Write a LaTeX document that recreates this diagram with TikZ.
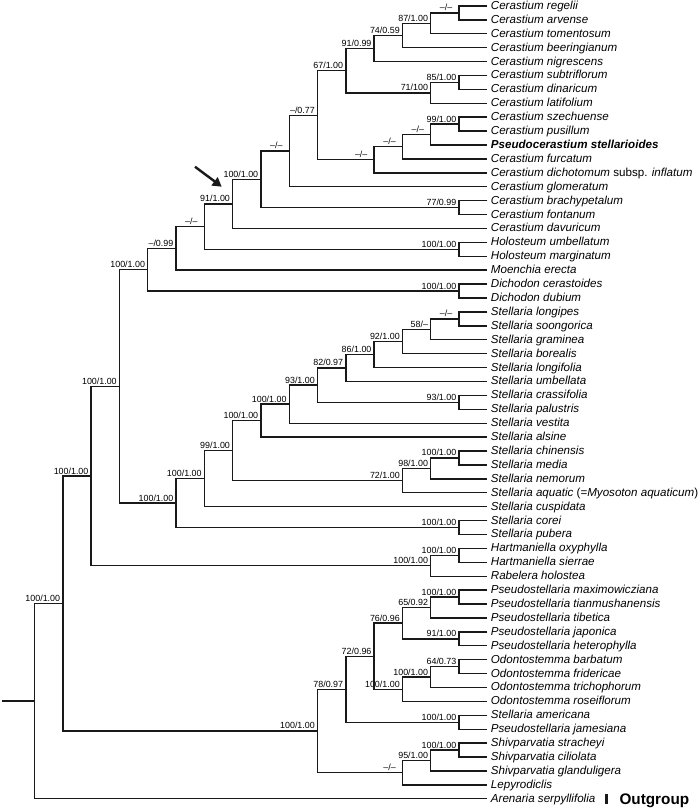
\documentclass[tikz,border=0pt]{standalone}
\usepackage{fontspec}
\setmainfont{Liberation Sans}
\usetikzlibrary{calc, arrows.meta, positioning}
\definecolor{mainBlack}{gray}{0.1}

\tikzset{
  branch/.style={line width=1.4pt, mainBlack},
  taxon/.style={anchor=west, inner xsep=3.4pt, inner ysep=0pt, text height=9pt, text depth=2pt,
    font=\fontsize{11.6}{13}\selectfont\itshape},
  support/.style={anchor=south east, inner xsep=2.5pt, inner ysep=1.8pt, text depth=0pt,
    font=\fontsize{8.9}{10}\selectfont}
}
% clade: name, level, child a, child b, support
\newcommand{\clade}[5]{%
  \coordinate (#1) at ($(#3)!0.5!(#4)$);
  \coordinate (#1) at (L#2 |- #1);
  \draw[branch] (#3) -| (#1) |- (#4);
  \node[support] (#1lab) at (#1) {#5};}
\newcommand{\nosup}{--/--\kern4pt}

\begin{document}
\begin{tikzpicture}[x=1pt, y=-1pt, >=Stealth]
    \useasboundingbox (0,0) rectangle (700,808);

    % levels, counted from the tips
    \foreach \h in {0,...,16}
        \coordinate (L\h) at ({487.3-28.3*\h}, 0);

    \foreach \tx [count=\i from 0] in {
        Cerastium regelii, Cerastium arvense, Cerastium tomentosum, Cerastium beeringianum,
        Cerastium nigrescens, Cerastium subtriflorum, Cerastium dinaricum, Cerastium latifolium,
        Cerastium szechuense, Cerastium pusillum, \textbf{Pseudocerastium stellarioides},
        Cerastium furcatum, Cerastium dichotomum {\upshape subsp.} inflatum,
        Cerastium glomeratum, Cerastium brachypetalum, Cerastium fontanum, Cerastium davuricum,
        Holosteum umbellatum, Holosteum marginatum, Moenchia erecta,
        Dichodon cerastoides, Dichodon dubium,
        Stellaria longipes, Stellaria soongorica, Stellaria graminea, Stellaria borealis,
        Stellaria longifolia, Stellaria umbellata, Stellaria crassifolia, Stellaria palustris,
        Stellaria vestita, Stellaria alsine, Stellaria chinensis, Stellaria media,
        Stellaria nemorum, Stellaria aquatic {\upshape(=}Myosoton aquaticum{\upshape)},
        Stellaria cuspidata, Stellaria corei, Stellaria pubera,
        Hartmaniella oxyphylla, Hartmaniella sierrae, Rabelera holostea,
        Pseudostellaria maximowicziana, Pseudostellaria tianmushanensis, Pseudostellaria tibetica,
        Pseudostellaria japonica, Pseudostellaria heterophylla,
        Odontostemma barbatum, Odontostemma fridericae, Odontostemma trichophorum,
        Odontostemma roseiflorum, Stellaria americana, Pseudostellaria jamesiana,
        Shivparvatia stracheyi, Shivparvatia ciliolata, Shivparvatia glanduligera,
        Lepyrodiclis, Arenaria serpyllifolia}
        \node[taxon] (t\i) at (487.3, {5.9+13.91*\i}) {\tx};

    % Cerastium
    \clade{c1}{1}{t0.west}{t1.west}{\nosup}
    \clade{c2}{2}{c1}{t2.west}{87/1.00}
    \clade{c3}{3}{c2}{t3.west}{74/0.59}
    \clade{c4}{4}{c3}{t4.west}{91/0.99}
    \clade{c5}{1}{t5.west}{t6.west}{85/1.00}
    \clade{c6}{2}{c5}{t7.west}{71/100}
    \clade{c7}{5}{c4}{c6}{67/1.00}
    \clade{c8}{1}{t8.west}{t9.west}{99/1.00}
    \clade{c9}{2}{c8}{t10.west}{\nosup}
    \clade{c10}{3}{c9}{t11.west}{\nosup}
    \clade{c11}{4}{c10}{t12.west}{\nosup}
    \clade{c12}{6}{c7}{c11}{--/0.77}
    \clade{c13}{7}{c12}{t13.west}{\nosup}
    \clade{c14}{1}{t14.west}{t15.west}{77/0.99}
    \clade{c15}{8}{c13}{c14}{100/1.00}
    \clade{c16}{9}{c15}{t16.west}{91/1.00}
    \clade{c17}{1}{t17.west}{t18.west}{100/1.00}
    \clade{c18}{10}{c16}{c17}{\nosup}
    \clade{c19}{11}{c18}{t19.west}{--/0.99}
    \clade{c20}{1}{t20.west}{t21.west}{100/1.00}
    \clade{c21}{12}{c19}{c20}{100/1.00}

    % Stellaria
    \clade{s1}{1}{t22.west}{t23.west}{\nosup}
    \clade{s2}{2}{s1}{t24.west}{58/--}
    \clade{s3}{3}{s2}{t25.west}{92/1.00}
    \clade{s4}{4}{s3}{t26.west}{86/1.00}
    \clade{s5}{5}{s4}{t27.west}{82/0.97}
    \clade{s6}{1}{t28.west}{t29.west}{93/1.00}
    \clade{s7}{6}{s5}{s6}{93/1.00}
    \clade{s8}{7}{s7}{t30.west}{100/1.00}
    \clade{s9}{8}{s8}{t31.west}{100/1.00}
    \clade{s10}{1}{t32.west}{t33.west}{100/1.00}
    \clade{s11}{2}{s10}{t34.west}{98/1.00}
    \clade{s12}{3}{s11}{t35.west}{72/1.00}
    \clade{s13}{9}{s9}{s12}{99/1.00}
    \clade{s14}{10}{s13}{t36.west}{100/1.00}
    \clade{s15}{1}{t37.west}{t38.west}{100/1.00}
    \clade{s16}{11}{s14}{s15}{100/1.00}
    \clade{n1}{13}{c21}{s16}{100/1.00}

    % Hartmaniella, Rabelera
    \clade{h1}{1}{t39.west}{t40.west}{100/1.00}
    \clade{h2}{2}{h1}{t41.west}{100/1.00}
    \clade{n2}{14}{n1}{h2}{100/1.00}

    % Pseudostellaria, Odontostemma, Shivparvatia
    \clade{p1}{1}{t42.west}{t43.west}{100/1.00}
    \clade{p2}{2}{p1}{t44.west}{65/0.92}
    \clade{p3}{1}{t45.west}{t46.west}{91/1.00}
    \clade{p4}{3}{p2}{p3}{76/0.96}
    \clade{o1}{1}{t47.west}{t48.west}{64/0.73}
    \clade{o2}{2}{o1}{t49.west}{100/1.00}
    \clade{o3}{3}{o2}{t50.west}{100/1.00}
    \clade{p5}{4}{p4}{o3}{72/0.96}
    \clade{p6}{1}{t51.west}{t52.west}{100/1.00}
    \clade{p7}{5}{p5}{p6}{78/0.97}
    \clade{v1}{1}{t53.west}{t54.west}{100/1.00}
    \clade{v2}{2}{v1}{t55.west}{95/1.00}
    \clade{v3}{3}{v2}{t56.west}{\nosup}
    \clade{p8}{6}{p7}{v3}{100/1.00}
    \clade{n3}{15}{n2}{p8}{100/1.00}

    \clade{root}{16}{n3}{t57.west}{}
    \coordinate (base) at (1.7,0);
    \draw[branch] (root) -- (base |- root);

    % arrow to the Cerastium node
    \coordinate (arrowTail) at (195,166.7);
    \coordinate (arrowTip) at (221.7,186.7);
    \draw[-{Triangle[length=9pt, width=10pt]}, line width=2.4pt, mainBlack] (arrowTail) -- (arrowTip);

    % outgroup mark
    \fill[mainBlack] (605,794.3) rectangle (608.3,804.3);
    \node[anchor=base west, inner sep=0pt, font=\fontsize{15.3}{17}\selectfont\bfseries] (outgroup) at (619.3,804.6) {Outgroup};
\end{tikzpicture}
\end{document}
